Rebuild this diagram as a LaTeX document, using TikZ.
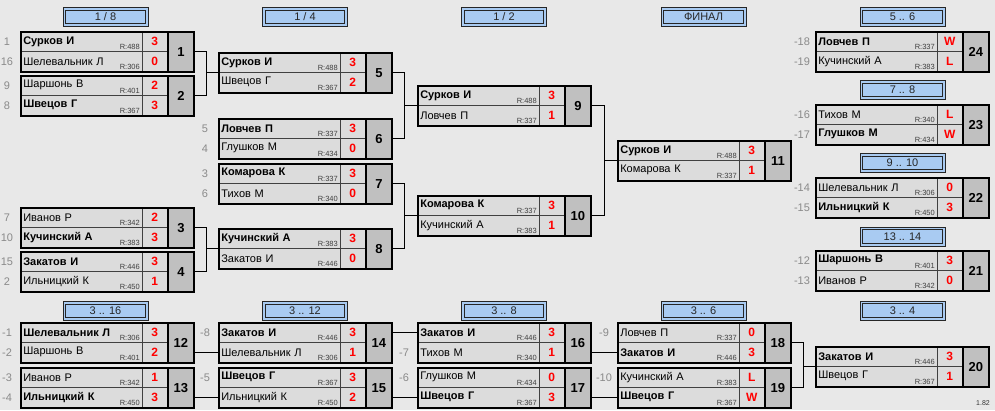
\documentclass[tikz,border=0pt]{standalone}
\usepackage{fontspec}
\setmainfont{Liberation Sans}
\usetikzlibrary{calc}
\definecolor{bgc}{HTML}{E8E8E8}
\definecolor{cellc}{HTML}{DCDCDC}
\definecolor{numc}{HTML}{C0C0C0}
\definecolor{hdrc}{HTML}{A9CBF2}
\definecolor{scorec}{HTML}{FF0000}
\definecolor{seedc}{HTML}{8A8A8A}
\tikzset{
  namecell/.style={anchor=north west, fill=cellc, draw=black!75, line width=0.6pt,
    minimum height=20pt, text width=116pt, inner xsep=3pt, inner ysep=0pt, align=left,
    font=\fontsize{11}{12}\selectfont},
  scorecell/.style={anchor=north west, fill=cellc, draw=black!75, line width=0.6pt,
    minimum height=20pt, minimum width=25pt, inner sep=0pt, text=scorec,
    font=\fontsize{12}{13}\selectfont\bfseries},
  numcell/.style={anchor=north west, fill=numc, draw=black, line width=1.8pt,
    minimum height=40pt, minimum width=26pt, inner sep=0pt,
    font=\fontsize{13}{14}\selectfont\bfseries},
  frame/.style={anchor=north west, draw=black, line width=1.8pt,
    minimum height=40pt, minimum width=173pt, inner sep=0pt},
  rating/.style={anchor=base east, inner sep=0pt, text=black!75,
    font=\fontsize{7.5}{8}\selectfont},
  seedl/.style={text=seedc, inner sep=0pt, font=\fontsize{11}{12}\selectfont},
  hdr/.style={fill=hdrc, draw=black!85, line width=0.9pt,
    minimum width=85pt, minimum height=19pt, inner sep=0pt,
    font=\fontsize{11}{12}\selectfont, text=black!85,
    path picture={\draw[black!85, line width=0.9pt]
      ([shift={(2.6pt,-2.6pt)}]path picture bounding box.north west) rectangle
      ([shift={(-2.6pt,2.6pt)}]path picture bounding box.south east);}},
  conn/.style={draw=black, line width=0.9pt}
}
% #1 num, #2 x, #3 y, #4 name1, #5 r1, #6 s1, #7 name2, #8 r2, #9 s2
\newcommand\match[9]{%
  \node[namecell] (m#1a) at (#2,#3) {#4};
  \node[namecell] (m#1b) at (#2,#3+20) {#7};
  \node[rating] (m#1ra) at (#2+120,#3+18) {R:#5};
  \node[rating] (m#1rb) at (#2+120,#3+38) {R:#8};
  \node[scorecell] (m#1sa) at (#2+122,#3) {#6};
  \node[scorecell] (m#1sb) at (#2+122,#3+20) {#9};
  \node[numcell] (m#1n) at (#2+147,#3) {#1};
  \node[frame] (m#1) at (#2,#3) {};
}
\newcommand\lbl[3]{\node[seedl] (l#1) at ([xshift=-13pt]#1.west) {#2};}
\begin{document}
\begin{tikzpicture}[x=1pt,y=-1pt]
\fill[bgc] (0,0) rectangle (995,410);
\useasboundingbox (0,0) rectangle (995,410);

% headers
\node[hdr] (h1) at (105.5,17) {1 / 8};
\node[hdr] (h2) at (305,17) {1 / 4};
\node[hdr] (h3) at (504,17) {1 / 2};
\node[hdr] (h4) at (703.5,17) {ФИНАЛ};
\node[hdr] (h5) at (902.5,17) {5 .. 6};
\node[hdr] (h6) at (902.5,90) {7 .. 8};
\node[hdr] (h7) at (902.5,163) {9 .. 10};
\node[hdr] (h8) at (902.5,236.5) {13 .. 14};
\node[hdr] (h9) at (902.5,310.5) {3 .. 4};
\node[hdr] (h10) at (105.5,311) {3 .. 16};
\node[hdr] (h11) at (305,311) {3 .. 12};
\node[hdr] (h12) at (504,311) {3 .. 8};
\node[hdr] (h13) at (703.5,311) {3 .. 6};

% column 1
\match{1}{20}{31}{\bfseries Сурков И}{488}{3}{Шелевальник Л}{306}{0}
\match{2}{20}{75}{Шаршонь В}{401}{2}{\bfseries Швецов Г}{367}{3}
\match{3}{20}{207}{Иванов Р}{342}{2}{\bfseries Кучинский А}{383}{3}
\match{4}{20}{251}{\bfseries Закатов И}{446}{3}{Ильницкий К}{450}{1}
\match{12}{20}{322}{\bfseries Шелевальник Л}{306}{3}{Шаршонь В}{401}{2}
\match{13}{20}{367}{Иванов Р}{342}{1}{\bfseries Ильницкий К}{450}{3}
% column 2
\match{5}{218}{52}{\bfseries Сурков И}{488}{3}{Швецов Г}{367}{2}
\match{6}{218}{118}{\bfseries Ловчев П}{337}{3}{Глушков М}{434}{0}
\match{7}{218}{163}{\bfseries Комарова К}{337}{3}{Тихов М}{340}{0}
\match{8}{218}{228}{\bfseries Кучинский А}{383}{3}{Закатов И}{446}{0}
\match{14}{218}{322}{\bfseries Закатов И}{446}{3}{Шелевальник Л}{306}{1}
\match{15}{218}{367}{\bfseries Швецов Г}{367}{3}{Ильницкий К}{450}{2}
% column 3
\match{9}{417}{85}{\bfseries Сурков И}{488}{3}{Ловчев П}{337}{1}
\match{10}{417}{195}{\bfseries Комарова К}{337}{3}{Кучинский А}{383}{1}
\match{16}{417}{322}{\bfseries Закатов И}{446}{3}{Тихов М}{340}{1}
\match{17}{417}{367}{Глушков М}{434}{0}{\bfseries Швецов Г}{367}{3}
% column 4
\match{11}{617}{140}{\bfseries Сурков И}{488}{3}{Комарова К}{337}{1}
\match{18}{617}{322}{Ловчев П}{337}{0}{\bfseries Закатов И}{446}{3}
\match{19}{617}{367}{Кучинский А}{383}{L}{\bfseries Швецов Г}{367}{W}
% column 5
\match{24}{815}{31}{\bfseries Ловчев П}{337}{W}{Кучинский А}{383}{L}
\match{23}{815}{104}{Тихов М}{340}{L}{\bfseries Глушков М}{434}{W}
\match{22}{815}{177}{Шелевальник Л}{306}{0}{\bfseries Ильницкий К}{450}{3}
\match{21}{815}{250}{\bfseries Шаршонь В}{401}{3}{Иванов Р}{342}{0}
\match{20}{815}{346}{\bfseries Закатов И}{446}{3}{Швецов Г}{367}{1}

% seed labels
\lbl{m1a}{1}{} \lbl{m1b}{16}{}
\lbl{m2a}{9}{} \lbl{m2b}{8}{}
\lbl{m3a}{7}{} \lbl{m3b}{10}{}
\lbl{m4a}{15}{} \lbl{m4b}{2}{}
\lbl{m6a}{5}{} \lbl{m6b}{4}{}
\lbl{m7a}{3}{} \lbl{m7b}{6}{}
\lbl{m12a}{-1}{} \lbl{m12b}{-2}{}
\lbl{m13a}{-3}{} \lbl{m13b}{-4}{}
\lbl{m14a}{-8}{}
\lbl{m15a}{-5}{}
\lbl{m16b}{-7}{}
\lbl{m17a}{-6}{}
\lbl{m18a}{-9}{}
\lbl{m19a}{-10}{}
\lbl{m24a}{-18}{} \lbl{m24b}{-19}{}
\lbl{m23a}{-16}{} \lbl{m23b}{-17}{}
\lbl{m22a}{-14}{} \lbl{m22b}{-15}{}
\lbl{m21a}{-12}{} \lbl{m21b}{-13}{}

% upper connectors
\coordinate (e5) at ($(m1.east)!0.5!(m5.west)$);
\draw[conn] (m1.east) -| (e5) |- (m2.east);
\draw[conn] (m5.west) -- (m5.west -| e5);
\coordinate (e8) at ($(m3.east)!0.5!(m8.west)$);
\draw[conn] (m3.east) -| (e8) |- (m4.east);
\draw[conn] (m8.west) -- (m8.west -| e8);
\coordinate (e9) at ($(m5.east)!0.5!(m9.west)$);
\draw[conn] (m5.east) -| (e9) |- (m6.east);
\draw[conn] (m9.west) -- (m9.west -| e9);
\coordinate (e10) at ($(m7.east)!0.5!(m10.west)$);
\draw[conn] (m7.east) -| (e10) |- (m8.east);
\draw[conn] (m10.west) -- (m10.west -| e10);
\coordinate (e11) at ($(m9.east)!0.5!(m11.west)$);
\draw[conn] (m9.east) -| (e11) |- (m10.east);
\draw[conn] (m11.west) -- (m11.west -| e11);

% lower connectors
\draw[conn] (m12.east |- m14b.west) -- (m14b.west);
\draw[conn] (m13.east |- m15b.west) -- (m15b.west);
\draw[conn] (m14.east |- m16a.west) -- (m16a.west);
\draw[conn] (m15.east |- m17b.west) -- (m17b.west);
\draw[conn] (m16.east |- m18b.west) -- (m18b.west);
\draw[conn] (m17.east |- m19b.west) -- (m19b.west);
\coordinate (e20) at ($(m18.east)!0.5!(m20.west)$);
\draw[conn] (m18.east) -| (e20) |- (m19.east);
\draw[conn] (m20.west) -- (m20.west -| e20);

\node[inner sep=0pt, text=black!80, font=\fontsize{7}{8}\selectfont] (ver) at (983,403) {1.82};
\end{tikzpicture}
\end{document}
